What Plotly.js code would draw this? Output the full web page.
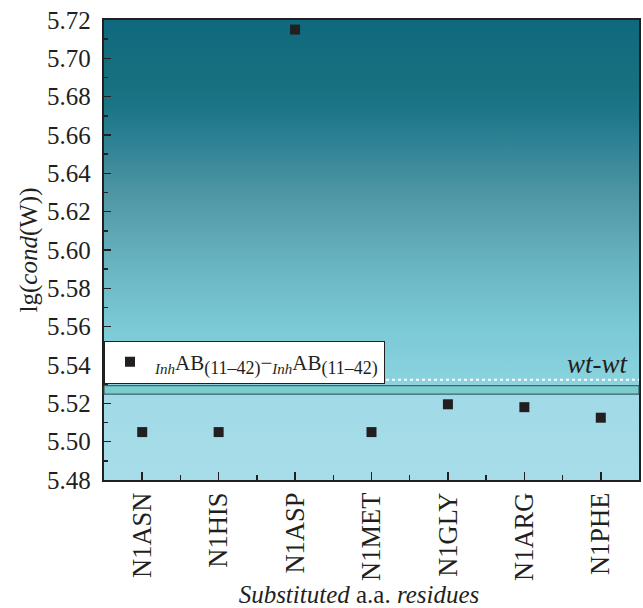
<!DOCTYPE html>
<html>
<head>
<meta charset="utf-8">
<script src="https://cdn.plot.ly/plotly-3.0.1.min.js"></script>
<style>html,body{margin:0;padding:0;background:#fff;}#chart{width:643px;height:608px;}</style>
</head>
<body>
<div id="chart"></div>
<script>
// ---- data ----
const categories = ["N1ASN", "N1HIS", "N1ASP", "N1MET", "N1GLY", "N1ARG", "N1PHE"];
const lgCond = [5.505, 5.505, 5.715, 5.505, 5.5195, 5.518, 5.5125];
const seriesName =
  "<sub><span style=\"font-size:15px\"><i>Inh</i></span></sub>AB<sub><span style=\"font-size:18px\">(11–42)</span></sub>" +
  "−" +
  "<sub><span style=\"font-size:15px\"><i>Inh</i></span></sub>AB<sub><span style=\"font-size:18px\">(11–42)</span></sub>";
const wtBand = [5.5248, 5.5292];   // wt-wt reference band
const wtLine = [5.5323];           // dotted reference line
const yRange = [5.48, 5.72];

// ---- background gradient ----
const gradSvg = '<svg xmlns="http://www.w3.org/2000/svg" width="10" height="100" preserveAspectRatio="none">' +
  '<defs><linearGradient id="g" x1="0" y1="0" x2="0" y2="1">' +
  '<stop offset="0" stop-color="#0f697e"/>' +
  '<stop offset="0.15" stop-color="#18717f"/>' +
  '<stop offset="0.2" stop-color="#1d7689"/>' +
  '<stop offset="0.4" stop-color="#549aa8"/>' +
  '<stop offset="0.55" stop-color="#6bb8c4"/>' +
  '<stop offset="0.68" stop-color="#7ccbd7"/>' +
  '<stop offset="0.79" stop-color="#8ad3df"/>' +
  '<stop offset="0.80" stop-color="#a0dae6"/>' +
  '<stop offset="1" stop-color="#a7dde9"/>' +
  '</linearGradient></defs><rect width="10" height="100" fill="url(#g)"/></svg>';
const gradUri = 'data:image/svg+xml;charset=utf-8,' + encodeURIComponent(gradSvg);

const ink = "#231f20";
const serif = "Liberation Serif";
const xIdx = categories.map((c, i) => i);

const trace = {
  type: "scatter",
  mode: "markers",
  x: xIdx,
  y: lgCond,
  name: seriesName,
  marker: {symbol: "square", size: 10, color: ink},
  showlegend: true
};

const layout = {
  width: 643, height: 608,
  margin: {l: 104, r: 4, t: 20, b: 128},
  paper_bgcolor: "#ffffff",
  plot_bgcolor: "#a7dde9",
  font: {family: serif, color: ink, size: 25},
  showlegend: true,
  legend: {
    x: 0, xanchor: "left", y: 0.303, yanchor: "top",
    bgcolor: "#ffffff", bordercolor: ink, borderwidth: 1,
    font: {family: serif, size: 21, color: ink},
    itemwidth: 40
  },
  xaxis: {
    range: [-0.5, 6.5],
    tickmode: "array",
    tickvals: xIdx,
    ticktext: categories,
    tickangle: -90,
    ticks: "inside", ticklen: 8, tickwidth: 1.5, tickcolor: ink,
    minor: {tickmode: "linear", tick0: 0.5, dtick: 1, ticks: "inside", ticklen: 5, tickwidth: 1.5, tickcolor: ink},
    showline: true, linewidth: 2, linecolor: ink, mirror: true,
    showgrid: false, zeroline: false,
    tickfont: {family: serif, size: 26.5, color: ink},
    title: {text: "<i>Substituted</i> a.a. <i>residues</i>&nbsp;&nbsp;&nbsp;&nbsp;", font: {family: serif, size: 25, color: ink}, standoff: 7},
    automargin: false
  },
  yaxis: {
    range: yRange,
    tickmode: "linear", tick0: 5.48, dtick: 0.02,
    tickformat: ".2f",
    ticksuffix: "<span style=\"color:rgba(0,0,0,0)\">.</span>",
    ticks: "inside", ticklen: 7, tickwidth: 1.5, tickcolor: ink,
    minor: {dtick: 0.01, ticks: "inside", ticklen: 4, tickwidth: 1.5, tickcolor: ink},
    showline: true, linewidth: 2, linecolor: ink, mirror: true,
    showgrid: false, zeroline: false,
    tickfont: {family: serif, size: 25, color: ink},
    title: {text: "lg(<i>cond</i>(W))", font: {family: serif, size: 25, color: ink}, standoff: 2},
    automargin: false
  },
  images: [{
    source: gradUri, xref: "paper", yref: "paper",
    x: 0, y: 1, sizex: 1, sizey: 1, xanchor: "left", yanchor: "top",
    sizing: "stretch", layer: "below"
  }],
  shapes: [
    {type: "rect", xref: "paper", x0: 0, x1: 1, yref: "y", y0: wtBand[0], y1: wtBand[1],
     fillcolor: "#7acccd", line: {color: "#2d4a4f", width: 1}, layer: "above"},
    {type: "line", xref: "paper", x0: 0, x1: 1, yref: "y", y0: wtLine[0], y1: wtLine[0],
     line: {color: "#ffffff", width: 2, dash: "dot"}, layer: "above"}
  ],
  annotations: [{
    text: "<i>wt-wt</i>", xref: "paper", yref: "paper", x: 0.985, y: 0.252,
    xanchor: "right", yanchor: "middle", showarrow: false,
    font: {family: serif, size: 27, color: ink}
  }]
};

Plotly.newPlot("chart", [trace], layout, {displayModeBar: false, staticPlot: true});
</script>
</body>
</html>
